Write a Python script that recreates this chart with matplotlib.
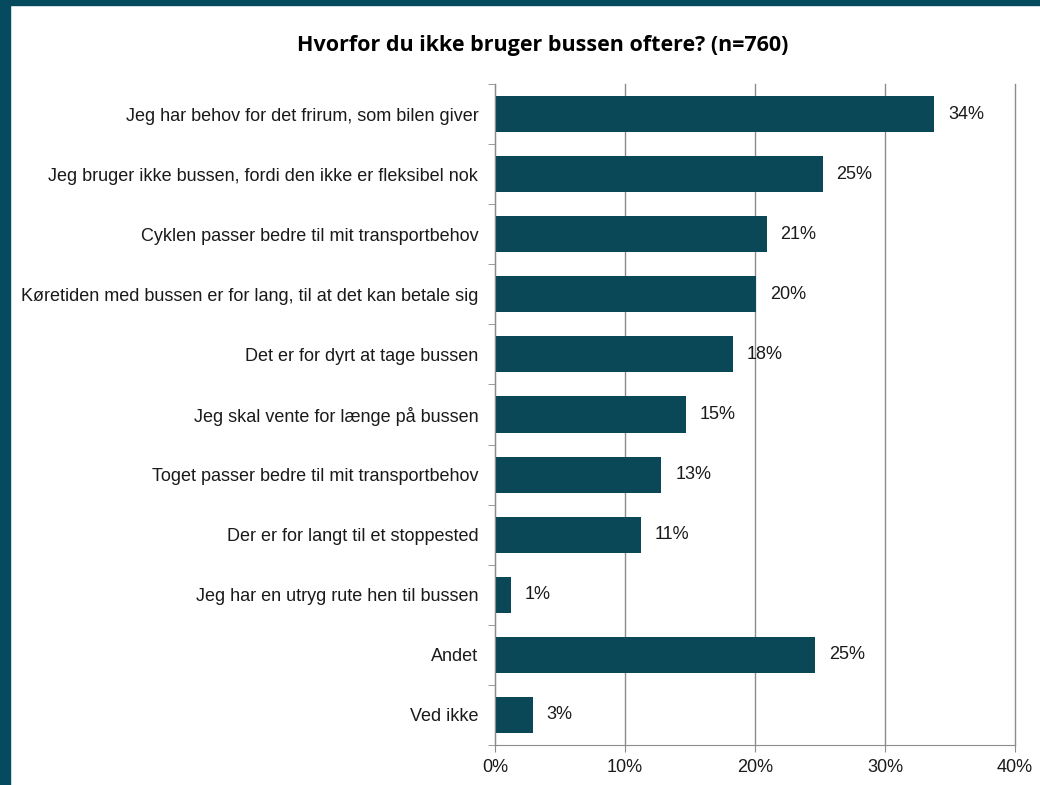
import numpy as np
import matplotlib.pyplot as plt
from matplotlib.patches import Rectangle

categories = [
    'Jeg har behov for det frirum, som bilen giver',
    'Jeg bruger ikke bussen, fordi den ikke er fleksibel nok',
    'Cyklen passer bedre til mit transportbehov',
    'Køretiden med bussen er for lang, til at det kan betale sig',
    'Det er for dyrt at tage bussen',
    'Jeg skal vente for længe på bussen',
    'Toget passer bedre til mit transportbehov',
    'Der er for langt til et stoppested',
    'Jeg har en utryg rute hen til bussen',
    'Andet',
    'Ved ikke',
]
values = [33.8, 25.2, 20.9, 20.1, 18.3, 14.7, 12.8, 11.2, 1.2, 24.6, 2.9]
labels = ['34%', '25%', '21%', '20%', '18%', '15%', '13%', '11%', '1%', '25%', '3%']
x_ticks = [0, 10, 20, 30, 40]

bar_color = '#0a4858'
frame_color = '#064a60'
grid_color = '#8c8c8c'

plt.rcParams['font.family'] = ['Liberation Sans', 'DejaVu Sans']

fig = plt.figure(figsize=(10.4, 7.85), dpi=100)
fig.patches.append(Rectangle((0, 0), 10 / 1040, 1, transform=fig.transFigure,
                             color=frame_color, zorder=10))
fig.patches.append(Rectangle((0, 1 - 5 / 785), 1, 5 / 785, transform=fig.transFigure,
                             color=frame_color, zorder=10))

ax = fig.add_axes([495 / 1040, 1 - 745 / 785, 520 / 1040, 661 / 785])
y = np.arange(len(categories))
ax.barh(y, values, height=0.6, color=bar_color, zorder=3)
ax.set_ylim(len(categories) - 0.5, -0.5)
ax.set_xlim(0, 40)

for yi, v, lab in zip(y, values, labels):
    ax.annotate(lab, (v, yi), xytext=(10, 0), textcoords='offset points',
                va='center', ha='left', fontsize=13, color='#1a1a1a', zorder=4)

ax.set_yticks(y)
ax.set_yticklabels(categories, fontsize=13, color='#1a1a1a')
ax.set_yticks(np.arange(-0.5, len(categories), 1), minor=True)
ax.tick_params(axis='y', which='major', length=0, pad=12)
ax.tick_params(axis='y', which='minor', length=5, color=grid_color, direction='out')

ax.set_xticks(x_ticks)
ax.set_xticklabels([f'{t}%' for t in x_ticks], fontsize=13, color='#1a1a1a')
ax.tick_params(axis='x', length=5, color=grid_color, direction='out', pad=5)

ax.grid(axis='x', color=grid_color, linewidth=1, zorder=0)
for line in ax.get_xgridlines():
    line.set_clip_on(False)
for s in ['top', 'right']:
    ax.spines[s].set_visible(False)
for s in ['left', 'bottom']:
    ax.spines[s].set_color(grid_color)
    ax.spines[s].set_zorder(5)

fig.text(543 / 1040, 1 - 45 / 785, 'Hvorfor du ikke bruger bussen oftere? (n=760)',
         ha='center', va='center', fontsize=15.5, fontweight='bold',
         family=['Open Sans', 'DejaVu Sans'])

fig.savefig('out.png', dpi=100, facecolor='white')
